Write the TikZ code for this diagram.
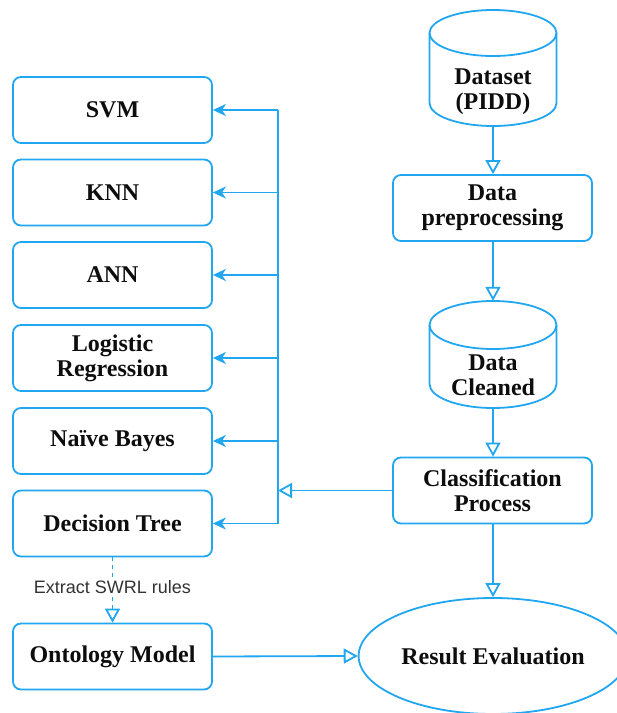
\documentclass[tikz,border=0pt]{standalone}
\usepackage{fontspec}
\setmainfont{Liberation Serif}
\newfontfamily\rulefont{Liberation Sans}
\usetikzlibrary{arrows.meta,shapes.geometric}
\definecolor{flowblue}{RGB}{33,166,240}
\definecolor{inkgray}{RGB}{51,51,51}
\tikzset{
  link/.style={draw=flowblue,line width=1.8pt},
  box/.style={link,rounded corners=8pt,minimum width=199pt,minimum height=66pt,
    align=center,text=black!95,font=\fontsize{24}{25}\selectfont\bfseries},
  dbshape/.style={minimum width=127pt,minimum height=116pt,inner sep=0pt},
  dbtext/.style={align=center,text=black!95,font=\fontsize{24}{25}\selectfont\bfseries},
  evalshape/.style={link,ellipse,minimum width=264pt,minimum height=116pt,
    text=black!95,font=\fontsize{24}{25}\selectfont\bfseries},
  swrl/.style={fill=white,inner sep=1pt,text=inkgray,font=\rulefont\fontsize{18}{20}\selectfont},
  opentip/.style={link,-{Triangle[open,length=14pt,width=15pt]}},
  filltip/.style={link,-{Stealth[length=13pt,width=12pt,inset=4pt]}}
}
\begin{document}
\begin{tikzpicture}[x=1pt,y=-1pt]
\useasboundingbox (0,0) rectangle (617,713);
% left column
\node[box] (svm) at (112.5,110) {SVM};
\node[box] (knn) at (112.5,192.5) {KNN};
\node[box] (ann) at (112.5,275) {ANN};
\node[box] (lr) at (112.5,358) {Logistic\\Regression};
\node[box] (nb) at (112.5,441) {Naïve Bayes};
\node[box] (dt) at (112.5,523.5) {Decision Tree};
\node[box] (onto) at (112.5,656.5) {Ontology Model};
% right column
\node[dbshape] (dataset) at (493,68) {};
\node[dbtext] (datasettext) at (493,92) {Dataset\\(PIDD)};
\node[box] (prep) at (492.5,208) {Data\\preprocessing};
\node[dbshape,minimum height=107pt] (cleaned) at (493,354.5) {};
\node[dbtext] (cleanedtext) at (493,375) {Data\\Cleaned};
\node[box] (clf) at (492.5,490.5) {Classification\\Process};
\node[evalshape] (eval) at (493,656) {Result Evaluation};
% cylinders
\draw[link] (493,33) ellipse[x radius=63.5,y radius=23];
\draw[link] (429.5,33) -- (429.5,103) arc[start angle=180,end angle=0,x radius=63.5,y radius=23] -- (556.5,33);
\draw[link] (493,325) ellipse[x radius=63.5,y radius=24];
\draw[link] (429.5,325) -- (429.5,384) arc[start angle=180,end angle=0,x radius=63.5,y radius=24] -- (556.5,325);
% bus to the classifiers
\coordinate (bustop) at (278,110);
\coordinate (busbot) at (278,523.5);
\draw[link] (bustop) -- (busbot);
\foreach \m in {svm,knn,ann,lr,nb,dt}
  \draw[filltip] (bustop |- \m.east) -- (\m.east);
\draw[opentip] (clf.west) -- (bustop |- clf.west);
% flow
\draw[opentip] (dataset.south) -- (prep.north -| dataset.south);
\draw[opentip] (prep.south -| dataset.south) -- (cleaned.north);
\draw[opentip] (cleaned.south) -- (clf.north -| cleaned.south);
\draw[opentip] (clf.south -| eval.north) -- (eval.north);
\draw[opentip] (onto.east) -- (eval.west);
\draw[opentip,dash pattern=on 4pt off 4pt] (dt.south) -- node[swrl,pos=0.45] {Extract SWRL rules} (onto.north);
\end{tikzpicture}
\end{document}
